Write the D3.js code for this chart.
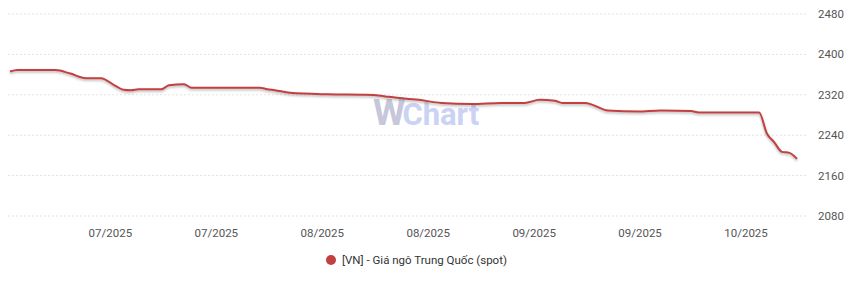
<!DOCTYPE html>
<html><head><meta charset="utf-8">
<script src="https://cdn.jsdelivr.net/npm/d3@7"></script>
<style>body{margin:0;background:#fff;}svg{display:block;font-family:Roboto,"Noto Sans",sans-serif;}</style>
</head><body><svg id="c" width="850" height="282"></svg>
<script>
const dates = ["2025-07-04","2025-07-05","2025-07-10","2025-07-12","2025-07-14","2025-07-16","2025-07-18","2025-07-19","2025-07-20","2025-07-21","2025-07-24","2025-07-25","2025-07-27","2025-07-28","2025-08-06","2025-08-07","2025-08-08","2025-08-10","2025-08-15","2025-08-20","2025-08-22","2025-08-23","2025-08-27","2025-08-30","2025-09-03","2025-09-07","2025-09-10","2025-09-12","2025-09-14","2025-09-15","2025-09-18","2025-09-19","2025-09-21","2025-09-25","2025-09-28","2025-10-02","2025-10-03","2025-10-11","2025-10-12","2025-10-13","2025-10-14","2025-10-15","2025-10-16"];
const values = [2366,2369,2369,2362,2353,2353,2337,2330,2329,2331,2331,2339,2341,2334,2334,2331,2329,2324,2321,2320,2318,2316,2310,2304,2302,2304,2304,2310,2308,2304,2304,2300,2289,2287,2289,2288,2285,2285,2244,2226,2207,2205,2193];
const yTicks = [2080,2160,2240,2320,2400,2480];
const xTickDates = ["2025-07-17","2025-07-31","2025-08-14","2025-08-28","2025-09-11","2025-09-25","2025-10-09"];
const seriesName = "[VN] - Giá ngô Trung Quốc (spot)";

const parse = d3.timeParse("%Y-%m-%d");
const data = dates.map((d,i)=>({date:parse(d), value:values[i]}));
const svg = d3.select("#c");
const x = d3.scaleTime().domain(d3.extent(data,d=>d.date)).range([10,797]);
const y = d3.scaleLinear().domain([2080,2480]).range([216,14]);

const defs = svg.append("defs");
const f = defs.append("filter").attr("id","sh").attr("x","-5%").attr("y","-50%").attr("width","110%").attr("height","200%");
f.append("feDropShadow").attr("dx",0).attr("dy",1.5).attr("stdDeviation",0.8).attr("flood-color","#555").attr("flood-opacity",0.45);

// grid
svg.append("g").selectAll("line").data(yTicks).join("line")
  .attr("x1",8).attr("x2",808).attr("y1",d=>y(d)).attr("y2",d=>y(d))
  .attr("stroke","#e3e3e3").attr("stroke-width",1).attr("stroke-dasharray","2,2");

// y labels
svg.append("g").selectAll("text").data(yTicks).join("text")
  .attr("x",818).attr("y",d=>y(d)).attr("dy","0.35em")
  .attr("font-size","11.5px").attr("fill","#555").text(d=>d);

// x labels
const fmt = d3.timeFormat("%m/%Y");
svg.append("g").selectAll("text").data(xTickDates.map(parse)).join("text")
  .attr("x",d=>x(d)+2).attr("y",233).attr("dy","0.35em").attr("text-anchor","middle")
  .attr("font-size","11.5px").attr("fill","#555").text(d=>fmt(d));

// watermark
const wm = svg.append("text").attr("x",373).attr("y",125).attr("font-weight","bold").attr("font-family","Roboto, sans-serif");
wm.append("tspan").attr("fill","#c6c7da").attr("font-size","37px").attr("letter-spacing","-4").text("W");
wm.append("tspan").attr("fill","#cbd2f3").attr("font-size","31px").attr("dx",1).text("Chart");
svg.append("circle").attr("cx",401).attr("cy",100).attr("r",2.5).attr("fill","#cbd2f3");

// line
const line = d3.line().x(d=>x(d.date)).y(d=>y(d.value)).curve(d3.curveMonotoneX);
svg.append("path").datum(data).attr("d",line).attr("fill","none")
  .attr("stroke","#c2403f").attr("stroke-width",2).attr("filter","url(#sh)");

// legend
const lg = svg.append("g");
lg.append("circle").attr("cx",331).attr("cy",260).attr("r",5).attr("fill","#c2403f");
lg.append("text").attr("x",342).attr("y",260).attr("dy","0.35em").attr("font-size","11.5px").attr("fill","#333").text(seriesName);
</script></body></html>
